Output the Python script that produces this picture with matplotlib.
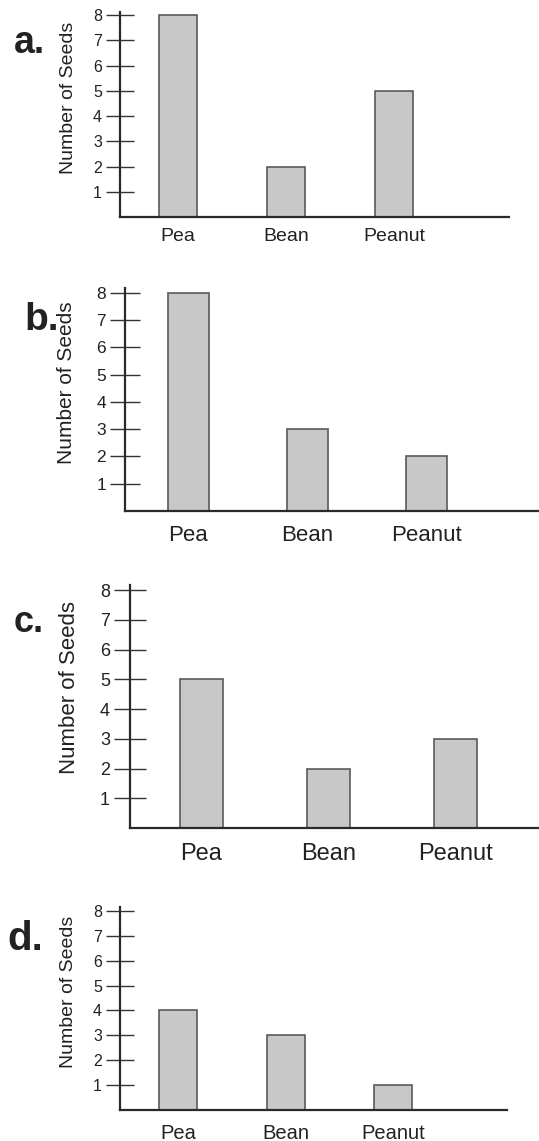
import matplotlib.pyplot as plt
from matplotlib.ticker import FixedLocator

plt.rcParams['font.family'] = ['Liberation Sans', 'DejaVu Sans']

seeds = ['Pea', 'Bean', 'Peanut']
counts_a = [8, 2, 5]
counts_b = [8, 3, 2]
counts_c = [5, 2, 3]
counts_d = [4, 3, 1]
yticks = [1, 2, 3, 4, 5, 6, 7, 8]
letters = ['a.', 'b.', 'c.', 'd.']

W, H = 539, 1141
fig = plt.figure(figsize=(W / 100, H / 100), dpi=100)

# panel layout in pixels: y-axis x, x-axis end, baseline y, axis top y
# xlim, bar width, font sizes, tick length, letter position, ylabel position
panels = [
    dict(counts=counts_a, x0=120, x1=509, base=217, top=12, ytop=8.13,
         xlim=(-0.537, 3.06), bw=0.35, tfs=11.5, xfs=14, yfs=14, tl=20,
         xpad=8, letter=(14, 53), lfs=27, ylab=(77, 97.5)),
    dict(counts=counts_b, x0=125, x1=539, base=511, top=288, ytop=8.18,
         xlim=(-0.534, 2.95), bw=0.345, tfs=12.5, xfs=16, yfs=15, tl=21.5,
         xpad=10, letter=(24, 330), lfs=28, ylab=(76, 382.5)),
    dict(counts=counts_c, x0=130, x1=539, base=828, top=585, ytop=8.17,
         xlim=(-0.56, 2.66), bw=0.34, tfs=13, xfs=17, yfs=16, tl=23,
         xpad=11, letter=(14, 632), lfs=26, ylab=(80, 688)),
    dict(counts=counts_d, x0=120, x1=507, base=1110, top=907, ytop=8.16,
         xlim=(-0.54, 3.06), bw=0.353, tfs=11.5, xfs=14.5, yfs=14, tl=20,
         xpad=10, letter=(7, 950), lfs=29, ylab=(77, 991.5)),
]

for p, letter in zip(panels, letters):
    ax = fig.add_axes([p['x0'] / W, 1 - p['base'] / H,
                       (p['x1'] - p['x0']) / W, (p['base'] - p['top']) / H])
    ax.bar(range(len(seeds)), p['counts'], width=p['bw'], color='#c8c8c8',
           edgecolor='#5a5a5a', linewidth=1.2, zorder=2)
    ax.set_xlim(*p['xlim'])
    ax.set_ylim(0, p['ytop'])
    ax.set_xticks(range(len(seeds)))
    ax.set_xticklabels(seeds, fontsize=p['xfs'], color='#222222')
    ax.tick_params(axis='x', length=0, pad=p['xpad'])
    ax.yaxis.set_major_locator(FixedLocator(yticks))
    ax.tick_params(axis='y', direction='inout', length=p['tl'], width=1.0,
                   color='#333333', labelsize=p['tfs'], labelcolor='#222222', pad=3)
    for s in ['top', 'right']:
        ax.spines[s].set_visible(False)
    for s in ['left', 'bottom']:
        ax.spines[s].set_color('#2a2a2a')
        ax.spines[s].set_linewidth(1.6)
    ax.set_ylabel('Number of Seeds', fontsize=p['yfs'], color='#222222')
    lx, ly = p['ylab']
    ax.yaxis.set_label_coords((lx - p['x0']) / (p['x1'] - p['x0']),
                              (p['base'] - ly) / (p['base'] - p['top']))
    fx, fy = p['letter']
    fig.text(fx / W, 1 - fy / H, letter, fontsize=p['lfs'], fontweight='bold',
             color='#222222', ha='left', va='baseline')

fig.savefig('out.png', dpi=100)
